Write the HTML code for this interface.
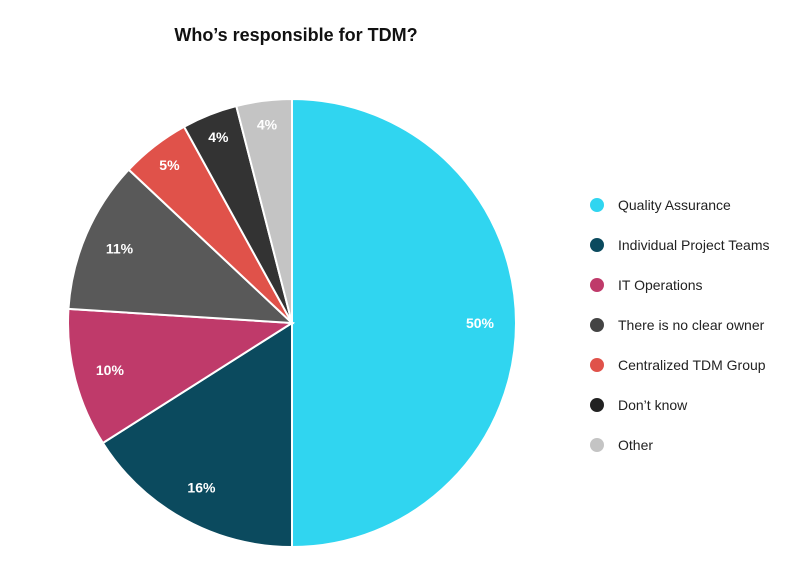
<!DOCTYPE html>
<html><head><meta charset="utf-8"><style>
html,body{margin:0;padding:0;background:#fff;}
svg{display:block;font-family:"Liberation Sans",sans-serif;}
</style></head><body>
<svg id="chart" width="800" height="583" viewBox="0 0 800 583">
<text x="296" y="41" text-anchor="middle" font-size="18" font-weight="bold" fill="#111">Who’s responsible for TDM?</text>
<g id="slices"></g><g id="labels"></g><g id="legend"></g>
</svg>
<script>
const categories=["Quality Assurance","Individual Project Teams","IT Operations","There is no clear owner","Centralized TDM Group","Don’t know","Other"];
const values=[50,16,10,11,5,4,4];
const legendColors=["#30d5f0","#0b4a5e","#bf3a6a","#444444","#e0524a","#222222","#c4c4c4"];
const sliceColors=["#30d5f0","#0b4a5e","#bf3a6a","#595959","#e0524a","#333333","#c4c4c4"];
const NS="http://www.w3.org/2000/svg";
const cx=292,cy=323,r=224,lr=188;
const total=values.reduce((a,b)=>a+b,0);
function pt(frac,rad){const a=frac*2*Math.PI;return [cx+rad*Math.sin(a),cy-rad*Math.cos(a)];}
const gS=document.getElementById('slices'),gL=document.getElementById('labels'),gG=document.getElementById('legend');
let acc=0;
values.forEach((v,i)=>{
 const f0=acc/total,f1=(acc+v)/total;acc+=v;
 const [x0,y0]=pt(f0,r),[x1,y1]=pt(f1,r);
 const large=(f1-f0)>0.5?1:0;
 const p=document.createElementNS(NS,'path');
 p.setAttribute('d',`M${cx},${cy}L${x0},${y0}A${r},${r} 0 ${large} 1 ${x1},${y1}Z`);
 p.setAttribute('fill',sliceColors[i]);p.setAttribute('stroke','#fff');p.setAttribute('stroke-width','2');
 
 
 gS.appendChild(p);
 const [lx,ly]=pt((f0+f1)/2,(f1-f0)<0.06?lr+12:lr);
 const t=document.createElementNS(NS,'text');
 t.setAttribute('x',lx);t.setAttribute('y',ly+5);t.setAttribute('text-anchor','middle');
 t.setAttribute('font-size','14');t.setAttribute('font-weight','bold');t.setAttribute('fill','#fff');
 t.textContent=v+'%';
 
 
 gL.appendChild(t);
 const c=document.createElementNS(NS,'circle');
 c.setAttribute('cx',597);c.setAttribute('cy',205+i*40);c.setAttribute('r',7);c.setAttribute('fill',legendColors[i]);
 
 
 gG.appendChild(c);
 const lt=document.createElementNS(NS,'text');
 lt.setAttribute('x',618);lt.setAttribute('y',210+i*40);lt.setAttribute('font-size','14');lt.setAttribute('fill','#222');
 lt.textContent=categories[i];
 
 
 gG.appendChild(lt);
});
</script>
</body></html>
